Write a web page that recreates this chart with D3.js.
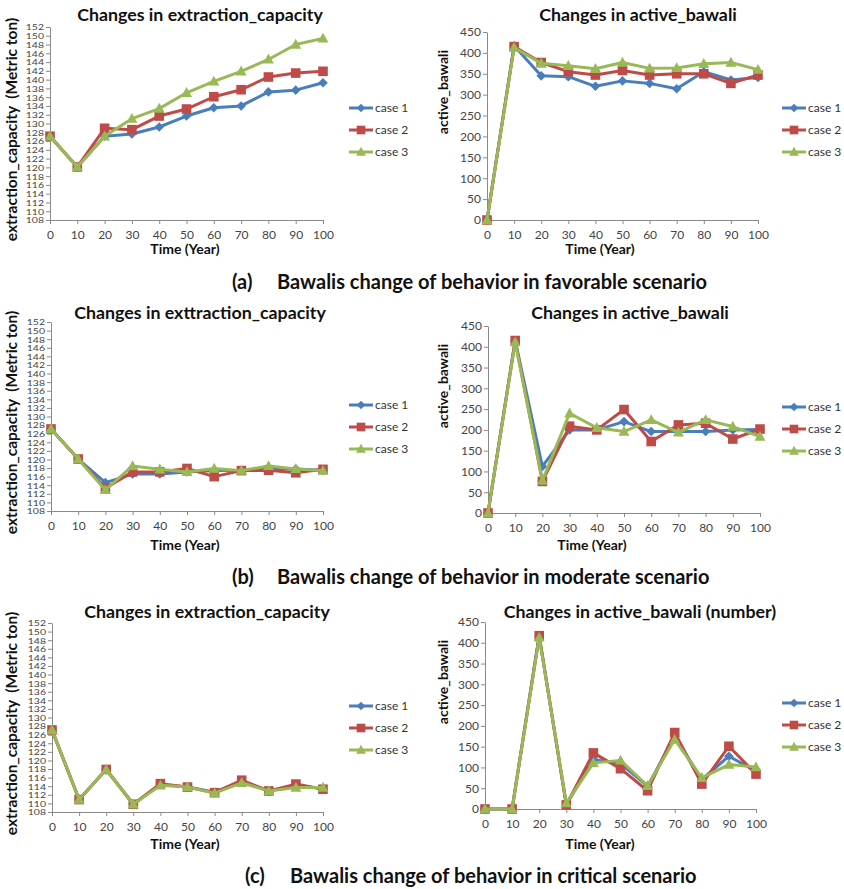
<!DOCTYPE html>
<html>
<head>
<meta charset="utf-8">
<script src="https://cdn.jsdelivr.net/npm/d3@7"></script>
<style>
  body { margin: 0; background: #fff; }
  svg text { font-family: Lato, "Open Sans", "DejaVu Sans", sans-serif; }
</style>
</head>
<body>
<svg id="fig" width="844" height="889"></svg>
<script>
// Simulation output: three behaviour cases per scenario, sampled every 10 years
const years = [0, 10, 20, 30, 40, 50, 60, 70, 80, 90, 100];
const caseNames = ["case 1", "case 2", "case 3"];
const capacityTicks = [108, 110, 112, 114, 116, 118, 120, 122, 124, 126, 128, 130, 132, 134, 136, 138, 140, 142, 144, 146, 148, 150, 152];
const bawaliTicks = [0, 50, 100, 150, 200, 250, 300, 350, 400, 450];

// (a) favorable scenario
const favCapacity1 = [127.1, 120.1, 127.1, 127.6, 129.2, 131.7, 133.6, 134.0, 137.2, 137.6, 139.3];
const favCapacity2 = [127.1, 120.1, 128.9, 128.6, 131.7, 133.3, 136.1, 137.7, 140.6, 141.5, 141.9];
const favCapacity3 = [127.1, 120.1, 127.1, 131.1, 133.4, 137.0, 139.6, 141.9, 144.6, 148.0, 149.4];
const favBawali1 = [0, 417, 345, 343, 320, 333, 327, 314, 355, 335, 341];
const favBawali2 = [0, 415, 377, 355, 347, 358, 347, 350, 350, 327, 347];
const favBawali3 = [0, 413, 375, 369, 362, 377, 363, 364, 374, 377, 360];

// (b) moderate scenario
const modCapacity1 = [127.1, 120.1, 114.6, 116.6, 116.6, 117.1, 117.4, 117.5, 117.8, 117.8, 117.5];
const modCapacity2 = [127.1, 120.1, 113.3, 117.1, 117.1, 117.9, 116.0, 117.4, 117.5, 116.9, 117.7];
const modCapacity3 = [127.1, 120.1, 112.9, 118.5, 117.7, 117.1, 117.9, 117.4, 118.5, 117.8, 117.4];
const modBawali1 = [0, 415, 112, 200, 200, 220, 196, 196, 196, 200, 201];
const modBawali2 = [0, 415, 76, 209, 200, 249, 172, 212, 216, 178, 202];
const modBawali3 = [0, 411, 78, 240, 205, 196, 224, 194, 224, 208, 184];

// (c) critical scenario
const critCapacity1 = [127.1, 110.9, 117.9, 109.8, 114.4, 113.8, 112.6, 115.1, 112.9, 114.1, 113.5];
const critCapacity2 = [127.1, 110.9, 117.9, 109.8, 114.6, 113.8, 112.5, 115.4, 112.9, 114.5, 113.3];
const critCapacity3 = [127.1, 110.9, 117.9, 109.8, 114.2, 113.8, 112.4, 114.8, 112.9, 113.7, 113.7];
const critBawali1 = [0, 0, 417, 10, 119, 109, 55, 175, 71, 127, 91];
const critBawali2 = [0, 0, 417, 10, 135, 97, 44, 184, 60, 151, 84];
const critBawali3 = [0, 0, 413, 14, 111, 117, 56, 167, 75, 107, 101];

const captions = [
  ["(a)", "Bawalis change of behavior in favorable scenario"],
  ["(b)", "Bawalis change of behavior in moderate scenario"],
  ["(c)", "Bawalis change of behavior in critical scenario"]
];

const colors = ["#4a7ebb", "#be4b48", "#98b954"];
const svg = d3.select("#fig");

// marker outlines centred on the origin
function markerPath(i, s) {
  if (i === 0) return `M0,${-s}L${s},0L0,${s}L${-s},0Z`;
  if (i === 1) return `M${-s},${-s}H${s}V${s}H${-s}Z`;
  return `M0,${-s * 1.1}L${s * 1.05},${s * 0.8}H${-s * 1.05}Z`;
}
const markerSize = [4.8, 4.8, 5.2];

function drawPanel(o) {
  const g = svg.append("g");
  const x = d3.scaleLinear().domain([0, 100]).range([o.left, o.right]);
  const y = d3.scaleLinear().domain([o.ticks[0], o.ticks[o.ticks.length - 1]]).range([o.bottom, o.top]);

  const yAxis = g.append("g").attr("transform", `translate(${o.left},0)`)
    .call(d3.axisLeft(y).tickValues(o.ticks).tickSize(4).tickPadding(2).tickSizeOuter(0));
  const xAxis = g.append("g").attr("transform", `translate(0,${o.bottom})`)
    .call(d3.axisBottom(x).tickValues(years).tickSize(4).tickPadding(6).tickSizeOuter(0));
  [xAxis, yAxis].forEach(a => {
    a.selectAll("path, line").attr("stroke", "#8a8a8a");
    a.selectAll("text").attr("fill", "#444").style("font-size", "12px");
  });
  // the capacity axis packs 23 labels into a short span, so they are squeezed vertically
  if (o.dense) yAxis.selectAll("text").style("font-size", "10.5px").attr("dy", "0.36em")
    .attr("transform", "scale(1,0.76)");

  const line = d3.line().x((d, j) => x(years[j])).y(d => y(d));
  o.series.forEach((vals, i) => {
    g.append("path").datum(vals).attr("d", line)
      .attr("fill", "none").attr("stroke", colors[i]).attr("stroke-width", 3)
      .attr("stroke-linejoin", "round");
    g.selectAll(null).data(vals).enter().append("path")
      .attr("transform", (d, j) => `translate(${x(years[j])},${y(d)})`)
      .attr("d", markerPath(i, markerSize[i])).attr("fill", colors[i]);
  });

  g.append("text").attr("x", o.titleX).attr("y", o.titleY).attr("text-anchor", "middle")
    .style("font-size", "17.8px").style("font-weight", "bold").attr("fill", "#111").text(o.title);
  g.append("text").attr("transform", `translate(${o.yLabelX},${o.yLabelY}) rotate(-90)`)
    .attr("text-anchor", "middle").style("font-size", o.yLabelSize).style("font-weight", "bold")
    .attr("fill", "#111").style("white-space", "pre").text(o.yLabel);
  g.append("text").attr("x", o.xLabelX).attr("y", o.xLabelY).attr("text-anchor", "middle")
    .style("font-size", "14px").style("font-weight", "bold").attr("fill", "#111").text("Time (Year)");

  const lg = g.append("g").attr("transform", `translate(${o.legendX},${o.legendY})`);
  caseNames.forEach((name, i) => {
    const row = lg.append("g").attr("transform", `translate(0,${i * 22})`);
    row.append("line").attr("x1", 0).attr("x2", 24).attr("stroke", colors[i]).attr("stroke-width", 3);
    row.append("path").attr("transform", "translate(12,0)").attr("d", markerPath(i, markerSize[i] * 0.9)).attr("fill", colors[i]);
    row.append("text").attr("x", 26).attr("dy", "0.35em").style("font-size", "12px").attr("fill", "#333").text(name);
  });
}

const rows = [
  { top: 27, bottom: 220, rTop: 32, rBottom: 220, lx: [50, 323], rx: [487, 758], titleY: 21, capY: 289,
    cap: [favCapacity1, favCapacity2, favCapacity3], baw: [favBawali1, favBawali2, favBawali3],
    titles: ["Changes in extraction_capacity", "Changes in active_bawali"], legY: [108, 108], xlabY: 254 },
  { top: 322, bottom: 511, rTop: 326, rBottom: 513, lx: [51, 323], rx: [488, 760], titleY: 319, capY: 584,
    cap: [modCapacity1, modCapacity2, modCapacity3], baw: [modBawali1, modBawali2, modBawali3],
    titles: ["Changes in exttraction_capacity", "Changes in active_bawali"], legY: [405, 407], xlabY: 550 },
  { top: 623, bottom: 812, rTop: 622, rBottom: 809, lx: [52, 323], rx: [485, 756], titleY: 618, capY: 883,
    cap: [critCapacity1, critCapacity2, critCapacity3], baw: [critBawali1, critBawali2, critBawali3],
    titles: ["Changes in extraction_capacity", "Changes in active_bawali (number)"], legY: [706, 703], xlabY: 849 }
];

rows.forEach((r, k) => {
  drawPanel({
    left: r.lx[0], right: r.lx[1], top: r.top, bottom: r.bottom, ticks: capacityTicks, dense: true,
    series: r.cap, title: r.titles[0], titleX: k === 2 ? 207 : 200, titleY: r.titleY,
    yLabel: "extraction_capacity  (Metric ton)", yLabelX: 17, yLabelY: (r.top + r.bottom) / 2 + 6, yLabelSize: "15.5px",
    xLabelX: 185, xLabelY: r.xlabY, legendX: 349, legendY: r.legY[0]
  });
  drawPanel({
    left: r.rx[0], right: r.rx[1], top: r.rTop, bottom: r.rBottom, ticks: bawaliTicks, dense: false,
    series: r.baw, title: r.titles[1], titleX: k === 2 ? 640 : (k === 0 ? 638 : 630), titleY: r.titleY,
    yLabel: "active_bawali", yLabelX: 448, yLabelY: r.rTop + 60, yLabelSize: "14px",
    xLabelX: k === 1 ? 592 : 600, xLabelY: r.xlabY, legendX: 782, legendY: r.legY[1]
  });
  const c = svg.append("text").attr("y", r.capY).style("font-size", "20px").style("font-weight", "bold").attr("fill", "#111");
  c.append("tspan").attr("x", k === 2 ? 245 : 232).text(captions[k][0]);
  c.append("tspan").attr("x", k === 2 ? 290 : 277).text(captions[k][1]);
});
</script>
</body>
</html>
